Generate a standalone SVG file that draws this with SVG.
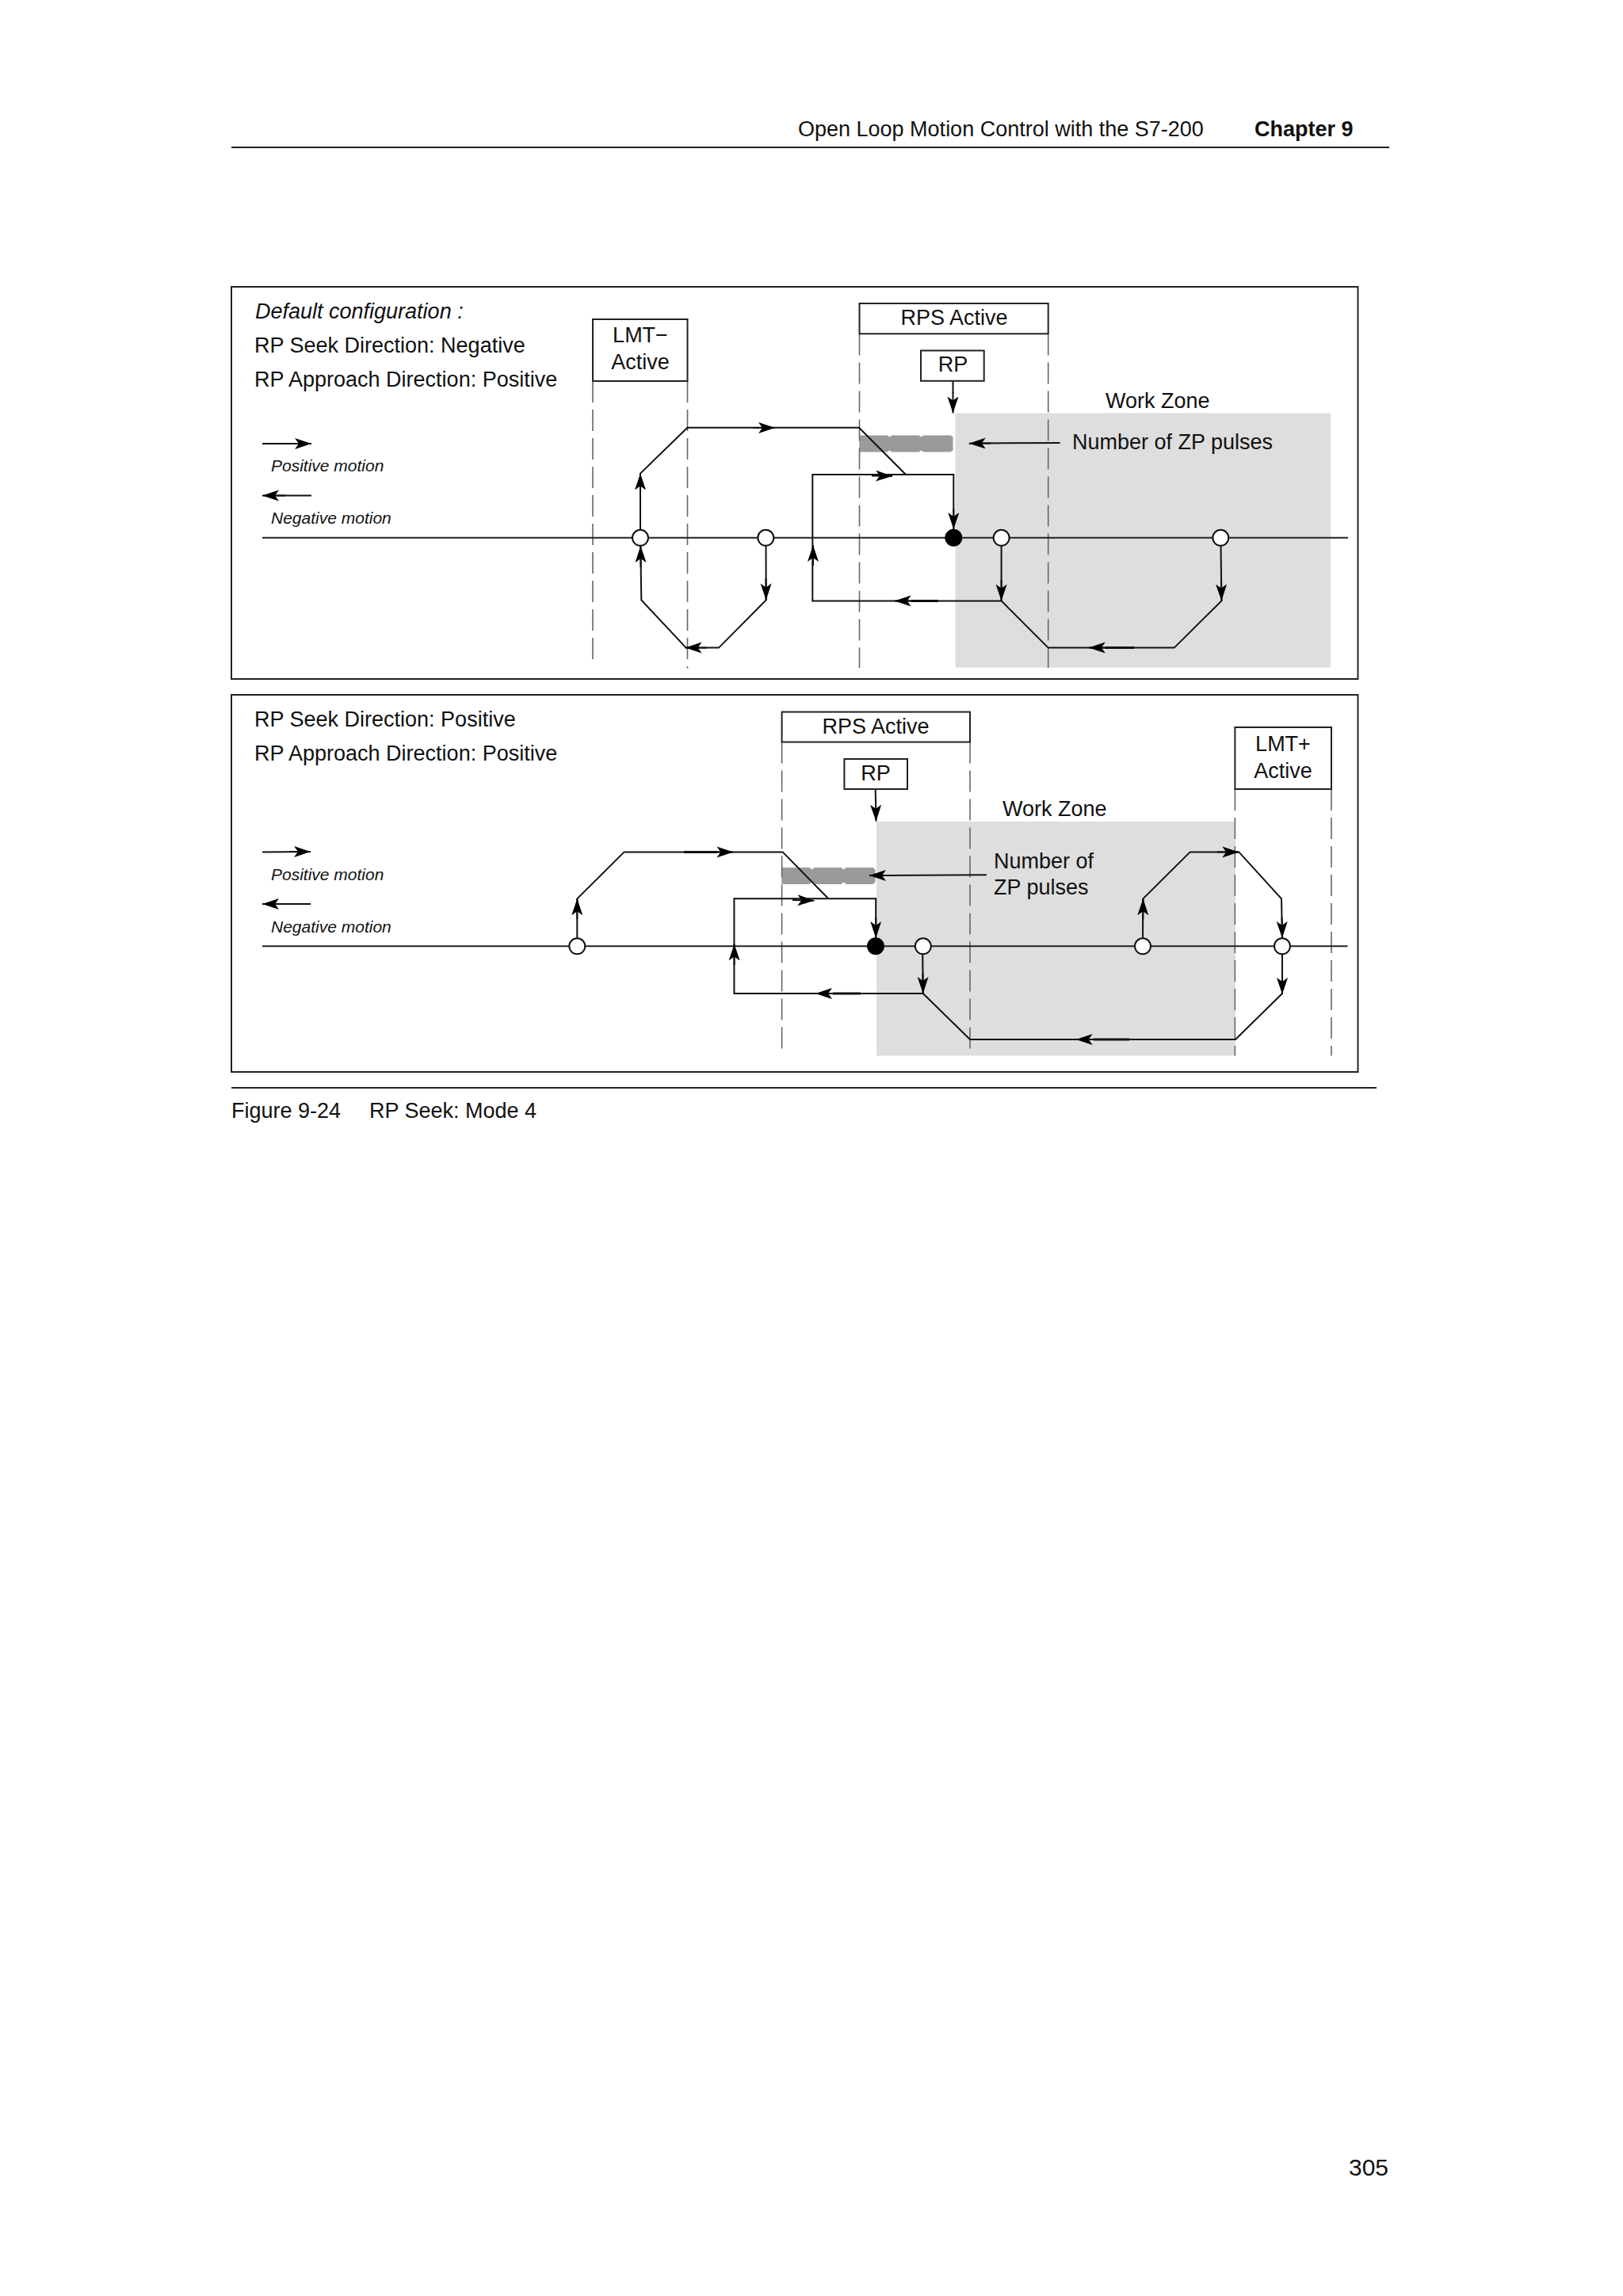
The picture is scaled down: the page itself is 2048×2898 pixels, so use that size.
<svg xmlns="http://www.w3.org/2000/svg" width="2048" height="2898" viewBox="0 0 2048 2898">
<style>
text{font-family:"Liberation Sans",Arial,sans-serif;fill:#111}
.t{font-size:27px}
.i{font-style:italic}
.s{font-size:21px;font-style:italic}
.m{text-anchor:middle}
.frame,.box{fill:#fff;stroke:#222;stroke-width:2}
.rule{stroke:#222;stroke-width:2;fill:none}
.zone{fill:#dedede}
.bar{fill:#9a9a9a}
.bard{stroke:#9a9a9a;stroke-width:21;stroke-dasharray:36 4;fill:none}
.dash{stroke:#666;stroke-width:1.6;stroke-dasharray:27 9;fill:none}
.axis{stroke:#222;stroke-width:2;fill:none}
.c{stroke:#111;stroke-width:2;fill:none}
.h{stroke:#111;stroke-width:2;fill:none;marker-end:url(#head)}
.th{stroke:#111;stroke-width:3;fill:none}
.n{fill:#fff;stroke:#111;stroke-width:2}
.b{fill:#000;stroke:#000;stroke-width:2}
</style>
<defs>
<marker id="head" markerUnits="userSpaceOnUse" markerWidth="24" markerHeight="16" refX="21" refY="7" orient="auto">
<path d="M0 0L21 7L0 14L5 7Z" fill="#000"/>
</marker>
</defs>
<rect width="2048" height="2898" fill="#fff"/>
<g id="page-header">
<text class="t" x="1007" y="172">Open Loop Motion Control with the S7-200</text>
<text class="t" x="1583" y="172" font-weight="bold">Chapter 9</text>
<line class="rule" x1="292" y1="186" x2="1753" y2="186"/>
</g>
<g id="panel1-frame"><rect class="frame" x="292" y="362" width="1421.5" height="495"/></g>
<g id="panel1-zone"><rect class="zone" x="1205.5" y="521.5" width="473.5" height="321"/></g>
<g id="panel1-zp"><rect class="bar" x="1084.5" y="551" width="118" height="18"/><line class="bard" x1="1084.5" y1="560" x2="1202.5" y2="560"/></g>
<g id="panel2-frame"><rect class="frame" x="292" y="877" width="1421.5" height="476"/></g>
<g id="panel2-zone"><rect class="zone" x="1106" y="1037" width="453" height="295.5"/></g>
<g id="panel2-zp"><rect class="bar" x="986.5" y="1097" width="118" height="17"/><line class="bard" x1="986.5" y1="1105.5" x2="1104.5" y2="1105.5"/></g>
<g id="connectors">
<path class="dash" d="M748 481V838M867.5 481V843.5M1084.5 421.5V843M1322.7 421.5V843"/>
<path class="dash" d="M986.6 936.5V1332.5M1224 936.5V1332.5M1558.4 996V1332.5M1680 996V1332.5"/>
<line class="axis" x1="331" y1="678.8" x2="1701" y2="678.8"/>
<line class="axis" x1="331" y1="1194.3" x2="1700.5" y2="1194.3"/>
<line class="c" x1="331" y1="560" x2="390" y2="560"/><line class="h" x1="365" y1="560" x2="393" y2="560"/>
<line class="c" x1="393" y1="625.5" x2="335" y2="625.5"/><line class="h" x1="360" y1="625.5" x2="331" y2="625.5"/>
<line class="c" x1="331" y1="1075.5" x2="390" y2="1075"/><line class="h" x1="365" y1="1075" x2="392" y2="1075"/>
<line class="c" x1="392" y1="1141" x2="335" y2="1141"/><line class="h" x1="358" y1="1141" x2="331" y2="1141"/>
<path class="c" d="M808 669L808 597.6L867.4 539.7H1084L1143 599"/>
<line class="h" x1="808" y1="625" x2="808" y2="597.6"/>
<line class="h" x1="950" y1="540" x2="978" y2="540"/>
<path class="c" d="M966.5 689L966.7 757.4L907 817.6H865.7L809.3 757.4L808.3 689"/>
<line class="h" x1="966.5" y1="730" x2="966.7" y2="757.4"/>
<line class="h" x1="892" y1="817.6" x2="864.6" y2="817.6"/>
<line class="h" x1="808.6" y1="716" x2="808.3" y2="689"/>
<path class="c" d="M1263.6 689V758.4H1025.3V599H1203.3V668"/>
<line class="h" x1="1026" y1="714" x2="1026" y2="688"/>
<line class="h" x1="1100" y1="600.5" x2="1126" y2="601"/>
<line class="h" x1="1263.6" y1="732" x2="1263.6" y2="758.4"/>
<line class="th" x1="1184" y1="758.4" x2="1150" y2="758.4"/>
<line class="h" x1="1155" y1="758.4" x2="1128.7" y2="758.4"/>
<line class="h" x1="1203.3" y1="642" x2="1203.3" y2="668"/>
<path class="c" d="M1263.6 758.4L1322.7 817.6H1481.7L1541.4 758.4L1540.5 689"/>
<line class="th" x1="1431" y1="817.6" x2="1395" y2="817.6"/>
<line class="h" x1="1400" y1="817.6" x2="1373.8" y2="817.6"/>
<line class="h" x1="1541" y1="732" x2="1541.4" y2="758.4"/>
<line class="c" x1="1202.5" y1="481" x2="1202.5" y2="496"/><line class="h" x1="1202.5" y1="495" x2="1202.5" y2="521.5"/>
<line class="c" x1="1337.6" y1="559" x2="1240" y2="559.4"/><line class="h" x1="1250" y1="559.4" x2="1222.8" y2="559.7"/>
<path class="c" d="M728.3 1184V1134.3L787.6 1075.4H987.6L1045.3 1134.3"/>
<line class="h" x1="728.3" y1="1160" x2="728.3" y2="1134.3"/>
<line class="th" x1="863" y1="1075.4" x2="905" y2="1075.4"/>
<line class="h" x1="900" y1="1075.4" x2="925.4" y2="1075.4"/>
<path class="c" d="M1105.2 1184V1134.3H926.4V1254H1164.8L1224 1312H1559L1618 1254L1618 1204.5"/>
<line class="h" x1="1000" y1="1136" x2="1027.4" y2="1136.8"/>
<line class="h" x1="926.6" y1="1218" x2="926.6" y2="1191.4"/>
<line class="th" x1="1086" y1="1254" x2="1051" y2="1254"/>
<line class="h" x1="1056" y1="1254" x2="1029" y2="1254"/>
<line class="h" x1="1105.2" y1="1158" x2="1105.2" y2="1184"/>
<line class="c" x1="1164.2" y1="1204.5" x2="1164.8" y2="1254"/>
<line class="h" x1="1164.5" y1="1228" x2="1164.8" y2="1254"/>
<line class="th" x1="1425" y1="1312" x2="1380" y2="1312"/>
<line class="h" x1="1385" y1="1312" x2="1357.7" y2="1312"/>
<line class="h" x1="1618" y1="1228" x2="1618" y2="1255"/>
<path class="c" d="M1442 1184L1442.4 1134.3L1501.7 1075.4H1563.3L1617 1134.3L1618 1184"/>
<line class="h" x1="1442.3" y1="1161" x2="1442.4" y2="1134.3"/>
<line class="h" x1="1536" y1="1075.4" x2="1563.3" y2="1075.4"/>
<line class="h" x1="1617.6" y1="1158" x2="1618" y2="1184"/>
<line class="c" x1="1104.7" y1="996" x2="1105" y2="1012"/><line class="h" x1="1105" y1="1010" x2="1105.5" y2="1036.8"/>
<line class="c" x1="1244.8" y1="1104.3" x2="1115" y2="1105"/><line class="h" x1="1124" y1="1105" x2="1097" y2="1105"/>
</g>
<g id="panel1-text">
<text class="t i" x="322" y="402">Default configuration :</text>
<text class="t" x="321" y="445">RP Seek Direction: Negative</text>
<text class="t" x="321" y="488">RP Approach Direction: Positive</text>
<text class="s" x="342" y="595">Positive motion</text>
<text class="s" x="342" y="661">Negative motion</text>
<text class="t" x="1395" y="515">Work Zone</text>
<text class="t" x="1353" y="567">Number of ZP pulses</text>
</g>
<g id="panel2-text">
<text class="t" x="321" y="917">RP Seek Direction: Positive</text>
<text class="t" x="321" y="960">RP Approach Direction: Positive</text>
<text class="s" x="342" y="1111">Positive motion</text>
<text class="s" x="342" y="1177">Negative motion</text>
<text class="t" x="1265" y="1030">Work Zone</text>
<text class="t" x="1254" y="1096">Number of</text>
<text class="t" x="1254" y="1129">ZP pulses</text>
</g>
<g id="node-lmt-minus"><rect class="box" x="748" y="403" width="119.5" height="78"/><text class="t m" x="808" y="432">LMT−</text><text class="t m" x="808" y="466">Active</text></g>
<g id="node-rps-1"><rect class="box" x="1084.5" y="383" width="238.2" height="38.3"/><text class="t m" x="1204" y="410">RPS Active</text></g>
<g id="node-rp-1"><rect class="box" x="1162" y="442.5" width="79.7" height="38.3"/><text class="t m" x="1202.5" y="469">RP</text></g>
<g id="node-rps-2"><rect class="box" x="986.6" y="898.6" width="237.4" height="38"/><text class="t m" x="1105" y="925.5">RPS Active</text></g>
<g id="node-rp-2"><rect class="box" x="1065.4" y="958" width="79.6" height="38"/><text class="t m" x="1105" y="984.5">RP</text></g>
<g id="node-lmt-plus"><rect class="box" x="1558.4" y="918" width="121.6" height="78"/><text class="t m" x="1619" y="948">LMT+</text><text class="t m" x="1619" y="981.5">Active</text></g>
<g id="p1-nodes">
<circle class="n" id="p1a" cx="808" cy="678.8" r="10"/>
<circle class="n" id="p1b" cx="966.3" cy="678.8" r="10"/>
<circle class="b" id="p1rp" cx="1203.3" cy="678.8" r="10"/>
<circle class="n" id="p1c" cx="1263.6" cy="678.8" r="10"/>
<circle class="n" id="p1d" cx="1540.3" cy="678.8" r="10"/>
</g>
<g id="p2-nodes">
<circle class="n" id="p2a" cx="728.3" cy="1194.3" r="10"/>
<circle class="b" id="p2rp" cx="1105" cy="1194.3" r="10"/>
<circle class="n" id="p2b" cx="1164.8" cy="1194.3" r="10"/>
<circle class="n" id="p2c" cx="1442" cy="1194.3" r="10"/>
<circle class="n" id="p2d" cx="1618" cy="1194.3" r="10"/>
</g>
<g id="caption">
<line class="rule" x1="292" y1="1373" x2="1737" y2="1373"/>
<text class="t" x="292" y="1411">Figure 9-24</text>
<text class="t" x="466" y="1411">RP Seek: Mode 4</text>
</g>
<text x="1702" y="2746" font-size="30">305</text>
</svg>
